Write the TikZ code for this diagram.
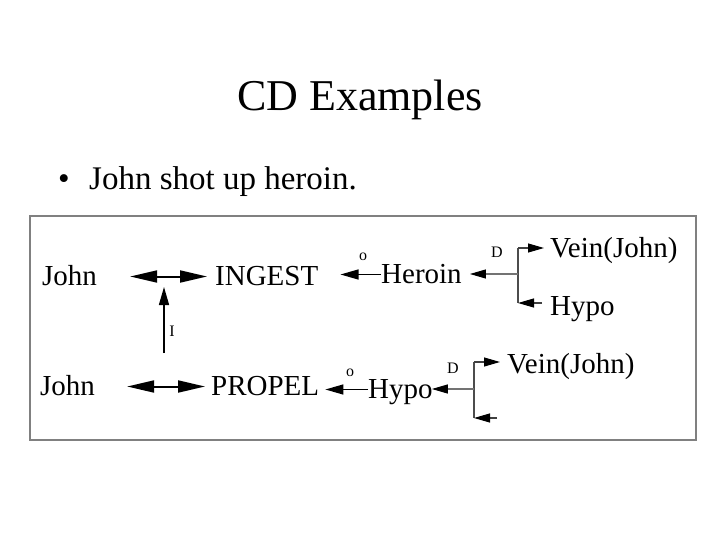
\documentclass[tikz,border=0pt]{standalone}
\usepackage{fontspec}
\setmainfont{Liberation Serif}
\usetikzlibrary{arrows.meta}
\begin{document}
\begin{tikzpicture}[x=1pt,y=-1pt,
  txt/.style={font=\fontsize{29}{32}\selectfont, inner sep=0pt, anchor=west, text height=19pt, text depth=2pt},
  lbl/.style={font=\fontsize{16}{18}\selectfont, inner sep=0pt},
  dbl/.style={line width=2pt, {Triangle[length=27pt,width=12pt]}-{Triangle[length=27pt,width=12pt]}},
  sarr/.style={line width=1.5pt, -{Triangle[length=18pt,width=10pt]}},
  garr/.style={line width=1.1pt, draw=black!55, -{Triangle[length=16pt,width=9pt,color=black,fill=black]}},
  darr/.style={line width=1.1pt, draw=black!75, -{Triangle[length=16pt,width=9pt,color=black,fill=black]}},
  gline/.style={line width=1.1pt, draw=black!70}
]
\useasboundingbox (0,0) rectangle (720,540);
\fill[white] (0,0) rectangle (720,540);

% title and bullet
\node[font=\fontsize{44}{48}\selectfont, anchor=base, inner sep=0pt] (title) at (360,111) {CD Examples};
\node[font=\fontsize{33}{36}\selectfont, anchor=base west, inner sep=0pt] (bullet) at (58,190) {\textbullet};
\node[font=\fontsize{33}{36}\selectfont, anchor=base west, inner sep=0pt] (sentence) at (89,190) {John shot up heroin.};

% frame
\draw[draw=black!50, line width=1.5pt] (30,216) rectangle (696,440);

% upper row
\node[txt] (john1) at (42,276.5) {John};
\node[txt] (ingest1) at (215,276.5) {INGEST};
\node[txt] (heroin) at (381,274.5) {Heroin};
\node[txt] (vein1) at (550,248.5) {Vein(John)};
\node[txt] (hypo1) at (550,306.5) {Hypo};

% lower row
\node[txt] (john2) at (40,386.5) {John};
\node[txt] (propel) at (211,386.5) {PROPEL};
\node[txt] (hypo2) at (368,389.5) {Hypo};
\node[txt] (vein2) at (507,364.5) {Vein(John)};

% small labels
\node[lbl] (o1) at (363,257) {o};
\node[lbl] (o2) at (350,373) {o};
\node[lbl] (d1) at (497,252) {D};
\node[lbl] (d2) at (453,368) {D};
\node[lbl] (ilab) at (172,331) {I};

% double arrows
\draw[dbl, shorten <=33pt, shorten >=8pt] (john1.east) -- (ingest1.west);
\draw[dbl, shorten <=32pt, shorten >=6pt] (john2.east) -- (propel.west);

% instrument arrow
\coordinate (ib) at (164,353);
\coordinate (it) at (164,287);
\draw[sarr] (ib) -- (it);

% object arrows
\draw[sarr, line width=1.3pt, shorten >=22pt] (heroin.west) -- (heroin.west -| ingest1.east);
\draw[sarr, line width=1.3pt, shorten >=6pt] (hypo2.west) -- (hypo2.west -| propel.east);

% upper direction branch
\coordinate (dj1) at (518,274);
\coordinate (dt1) at (518,248);
\coordinate (db1) at (518,303);
\draw[gline] (dt1) -- (db1);
\draw[garr, shorten >=8pt] (dj1) -- (dj1 -| heroin.east);
\draw[darr, shorten >=6pt] (dt1) -- (dt1 -| vein1.west);
\draw[darr, shorten <=8pt] (db1 -| hypo1.west) -- (db1);

% lower direction branch
\coordinate (dj2) at (474,389);
\coordinate (dt2) at (474,362);
\coordinate (db2) at (474,418);
\coordinate (bt2) at (497,418);
\draw[gline] (dt2) -- (db2);
\draw[garr, shorten >=-1pt] (dj2) -- (dj2 -| hypo2.east);
\draw[darr, shorten >=7pt] (dt2) -- (dt2 -| vein2.west);
\draw[darr] (bt2) -- (db2);
\end{tikzpicture}
\end{document}
